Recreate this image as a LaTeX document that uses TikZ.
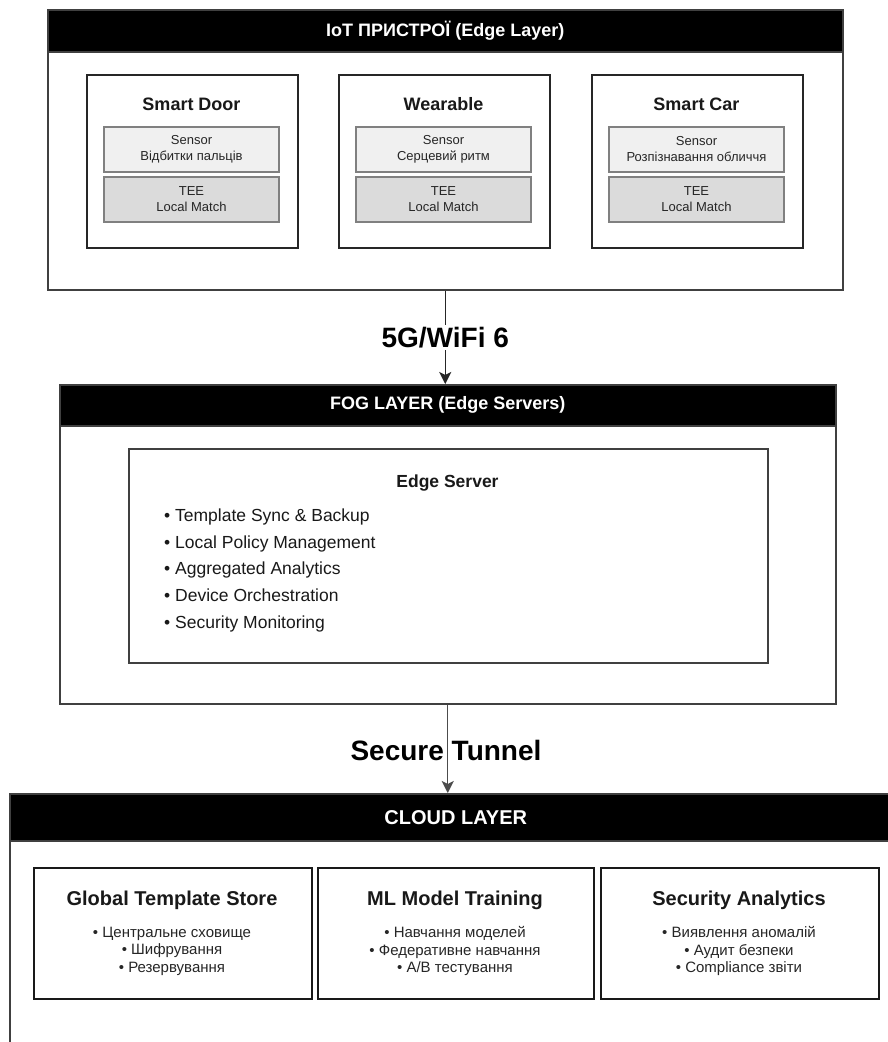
\documentclass[tikz,border=0pt]{standalone}
\usepackage{fontspec}
\setmainfont{Liberation Sans}
\usetikzlibrary{arrows.meta}

\newcommand{\fs}[2]{\fontsize{#1}{#2}\selectfont}

\tikzset{
  layerbox/.style={draw=black!75, line width=1.5pt, anchor=north west, inner sep=0pt},
  hdrbar/.style={fill=black, draw=black!75, line width=1.5pt, anchor=north west,
                 text=white, inner sep=0pt, font=\bfseries\fs{18}{20}},
  devbox/.style={draw=black!85, line width=2pt, anchor=north west, inner sep=0pt,
                 minimum width=211pt, minimum height=173pt},
  devtitle/.style={font=\bfseries\fs{18}{20}, text=black!90, inner sep=0pt},
  sensbox/.style={draw=black!50, line width=1.2pt, fill=black!6, align=center,
                  minimum width=175pt, minimum height=45pt, inner sep=0pt,
                  text=black!85, font=\fs{13}{16}},
  teebox/.style={sensbox, fill=black!14},
  srvbox/.style={draw=black!75, line width=2pt, anchor=north west, inner sep=0pt,
                 minimum width=639pt, minimum height=214pt},
  srvitem/.style={anchor=base west, inner sep=0pt, text=black!90, font=\fs{17.5}{20}},
  cloudbox/.style={draw=black!90, line width=2pt, anchor=north west, inner sep=0pt,
                   minimum height=131pt},
  cloudtitle/.style={font=\bfseries\fs{20}{22}, text=black!90, inner sep=0pt},
  clouditem/.style={align=center, inner sep=0pt, text=black!85, font=\fs{15}{17.5}},
  linklabel/.style={font=\bfseries\fs{28}{30}, text=black},
  linkarrow/.style={line width=1.4pt, -{Stealth[length=12pt, width=12pt, inset=3pt]}}
}

\begin{document}
\begin{tikzpicture}[x=1pt, y=-1pt]
\useasboundingbox (0,0) rectangle (888,1042);
\fill[white] (0,0) rectangle (888,1042);
\clip (0,0) rectangle (888,1042);

% ---------------- IoT devices layer ----------------
\node[layerbox, minimum width=795pt, minimum height=280pt] (iot) at (47,9) {};
\node[hdrbar, minimum width=795pt, minimum height=42pt] (iothdr) at (47,9)
  {IoT ПРИСТРОЇ (Edge Layer)};

\node[devbox] (door) at (86,74) {};
\node[devtitle] (doortitle) at (191.5,104) {Smart Door};
\node[sensbox] (doorsens) at (191.5,149.5) {Sensor\\Відбитки пальців};
\node[teebox]  (doortee)  at (191.5,199.5) {TEE\\Local Match};

\node[devbox] (wear) at (338,74) {};
\node[devtitle] (weartitle) at (443.5,104) {Wearable};
\node[sensbox] (wearsens) at (443.5,149.5) {Sensor\\Серцевий ритм};
\node[teebox]  (weartee)  at (443.5,199.5) {TEE\\Local Match};

\node[devbox] (car) at (591,74) {};
\node[devtitle] (cartitle) at (696.5,104) {Smart Car};
\node[sensbox] (carsens) at (696.5,149.5) {Sensor\\Розпізнавання обличчя};
\node[teebox]  (cartee)  at (696.5,199.5) {TEE\\Local Match};

% ---------------- Fog layer ----------------
\node[layerbox, minimum width=776pt, minimum height=319pt] (fog) at (59,384) {};
\node[hdrbar, minimum width=776pt, minimum height=41pt] (foghdr) at (59,384)
  {FOG LAYER (Edge Servers)};

\node[srvbox] (server) at (128,448) {};
\node[devtitle, font=\bfseries\fs{17.5}{20}] (servertitle) at (447.5,483) {Edge Server};
\node[srvitem] (s1) at (164,521) {• Template Sync \& Backup};
\node[srvitem] (s2) at (164,548) {• Local Policy Management};
\node[srvitem] (s3) at (164,574.5) {• Aggregated Analytics};
\node[srvitem] (s4) at (164,601) {• Device Orchestration};
\node[srvitem] (s5) at (164,628) {• Security Monitoring};

% ---------------- Cloud layer ----------------
\node[layerbox, minimum width=892pt, minimum height=280pt] (cloud) at (9,793) {};
\node[hdrbar, minimum width=892pt, minimum height=47pt, font=\bfseries\fs{20}{22}]
  (cloudhdr) at (9,793) {CLOUD LAYER};

\node[cloudbox, minimum width=278pt] (store) at (33,867) {};
\node[cloudtitle] (storetitle) at (172,900) {Global Template Store};
\node[clouditem] (storeitems) at (172,951)
  {• Центральне сховище\\• Шифрування\\• Резервування};

\node[cloudbox, minimum width=276pt] (ml) at (317,867) {};
\node[cloudtitle] (mltitle) at (455,900) {ML Model Training};
\node[clouditem] (mlitems) at (455,951)
  {• Навчання моделей\\• Федеративне навчання\\• A/B тестування};

\node[cloudbox, minimum width=278pt] (sec) at (600,867) {};
\node[cloudtitle] (sectitle) at (739,900) {Security Analytics};
\node[clouditem] (secitems) at (739,951)
  {• Виявлення аномалій\\• Аудит безпеки\\• Compliance звіти};

% ---------------- Links between layers ----------------
\draw[linkarrow, draw=black!85] (iot.south) -- node[linklabel, fill=white, inner sep=2pt] {5G/WiFi 6}
  (iot.south |- foghdr.north);
\node[linklabel, inner sep=0pt] (tunnellabel) at (446,750) {Secure Tunnel};
\draw[linkarrow, draw=black!70] (fog.south) -- (fog.south |- cloudhdr.north);
\end{tikzpicture}
\end{document}
